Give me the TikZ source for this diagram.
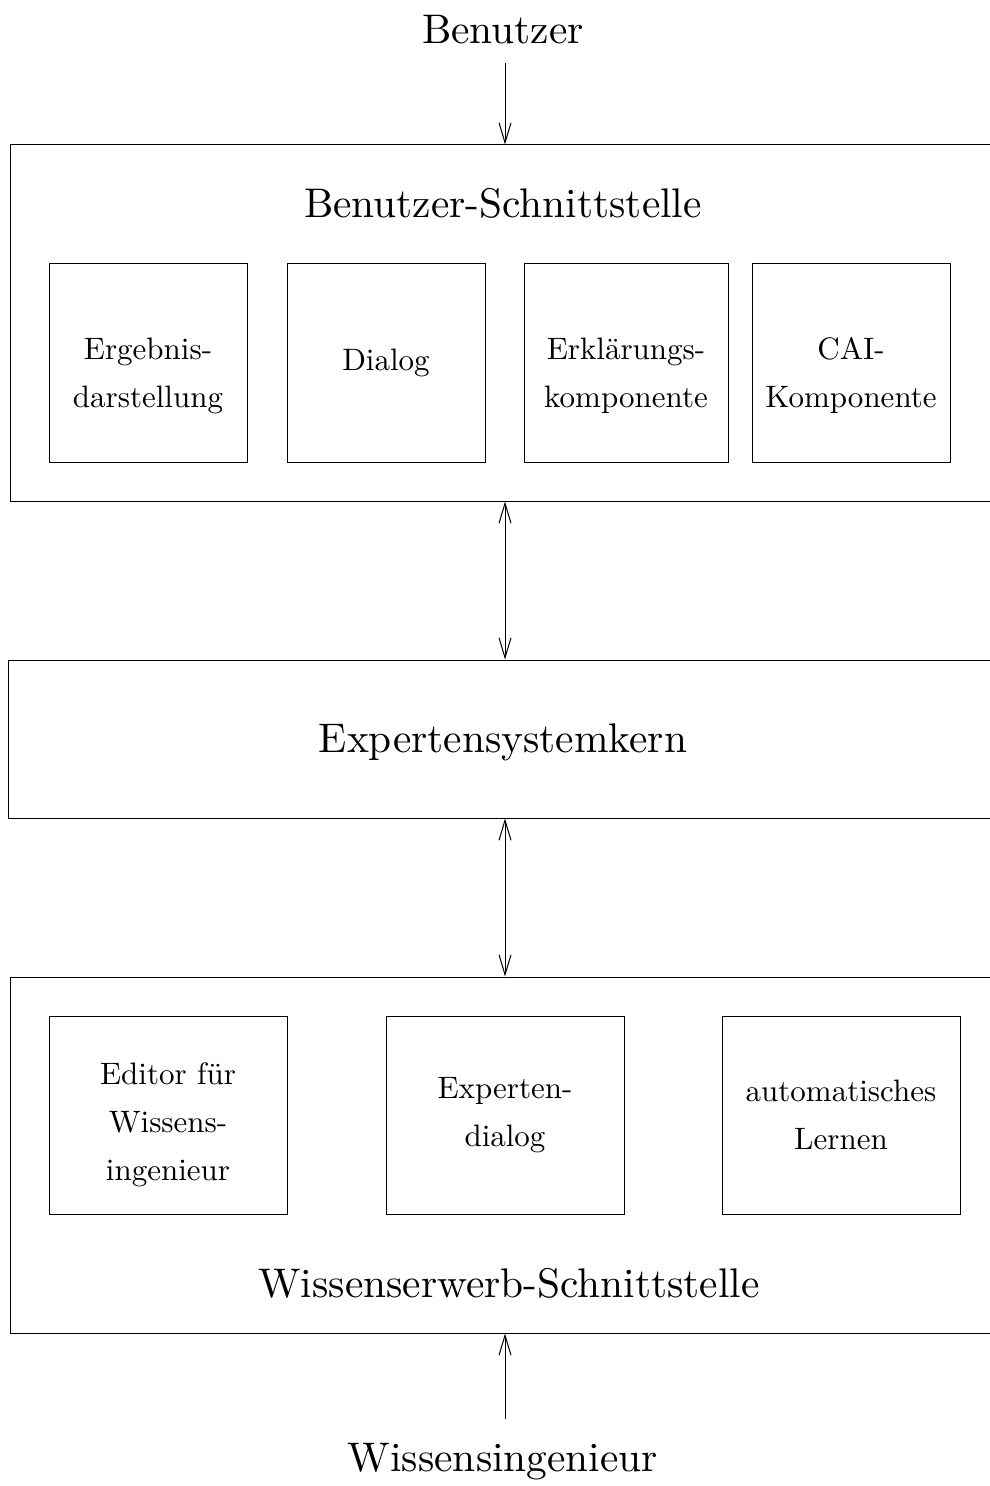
\documentclass[tikz,border=0pt]{standalone}
\usepackage{fontspec}
\setmainfont{lmroman10-regular}[Extension = .otf]
\usetikzlibrary{arrows.meta}

\begin{document}
\begin{tikzpicture}[x = 0.5pt, y = -0.5pt, > = {Straight Barb[length = 10pt, width = 6pt]},
	frame/.style = {draw, line width = 0.5pt, inner sep = 0pt},
	part/.style = {frame, align = center, font = \fontsize{15.5}{24}\selectfont, minimum height = 99pt},
	sink/.style = {text height = #1, text depth = 3pt},
	title/.style = {font = \fontsize{20.7}{25}\selectfont}]

	\useasboundingbox (0, 0) rectangle (989, 1486);

	% Outer boxes
	
	\node [frame, minimum width = 495pt, minimum height = 178pt] (ui) at (505, 323) {};
	\node [frame, minimum width = 497pt, minimum height = 79pt] (core) at (505, 739) {};
	\node [frame, minimum width = 495pt, minimum height = 178pt] (acq) at (505, 1155) {};

	% Texts
	
	\node [title] (user) at (503, 30) {Benutzer};
	\node [title] (uititle) at (503, 203) {Benutzer-Schnittstelle};
	\node [title] (coretitle) at (503, 742) {Expertensystemkern};
	\node [title] (acqtitle) at (509, 1283) {Wissenserwerb-Schnittstelle};
	\node [title] (engineer) at (503, 1462) {Wissensingenieur};

	% Components
	
	\node [part, sink = 47.5pt, minimum width = 99pt] (result) at (148, 363) {Ergebnis-\\darstellung};
	\node [part, minimum width = 99pt] (dialog) at (386, 363) {Dialog};
	\node [part, sink = 47.5pt, minimum width = 102pt] (explain) at (626, 363) {Erklärungs-\\komponente};
	\node [part, sink = 47.5pt, minimum width = 99pt] (cai) at (851, 363) {CAI-\\Komponente};
	
	\node [part, sink = 68.5pt, minimum width = 119pt] (editor) at (168, 1115) {Editor für\\Wissens-\\ingenieur};
	\node [part, minimum width = 119pt] (expdialog) at (505, 1115) {Experten-\\dialog};
	\node [part, minimum width = 119pt] (learn) at (841, 1115) {automatisches\\Lernen};

	% Arrows
	
	\begin{scope}[line width = 0.5pt]
	
		\draw [->, shorten <= 6pt] (user.south -| ui.north) -- (ui.north);
		\draw [<->] (ui) -- (core);
		\draw [<->] (core) -- (acq);
		\draw [->, shorten <= 9pt] (engineer.north -| acq.south) -- (acq.south);
		
	\end{scope}

\end{tikzpicture}
\end{document}
